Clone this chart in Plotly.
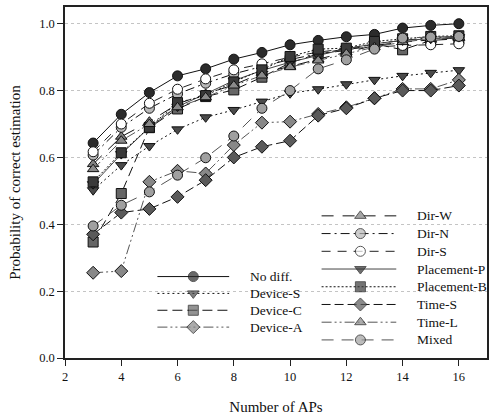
import plotly.graph_objects as go

# Number of access points on the x axis
aps = [3, 4, 5, 6, 7, 8, 9, 10, 11, 12, 13, 14, 15, 16]

# Probability of correct estimation for each scenario
no_diff     = [0.643, 0.729, 0.794, 0.844, 0.865, 0.894, 0.914, 0.937, 0.950, 0.961, 0.968, 0.987, 0.995, 1.000]
device_s    = [0.502, 0.577, 0.634, 0.684, 0.720, 0.742, 0.767, 0.792, 0.804, 0.819, 0.832, 0.844, 0.853, 0.861]
device_c    = [0.347, 0.492, 0.689, 0.745, 0.782, 0.802, 0.840, 0.883, 0.910, 0.920, 0.940, 0.922, 0.950, 0.955]
device_a    = [0.255, 0.260, 0.527, 0.560, 0.552, 0.637, 0.704, 0.707, 0.730, 0.750, 0.777, 0.805, 0.805, 0.832]
dir_w       = [0.580, 0.662, 0.707, 0.760, 0.790, 0.817, 0.853, 0.872, 0.894, 0.915, 0.935, 0.945, 0.952, 0.958]
dir_n       = [0.607, 0.690, 0.747, 0.790, 0.822, 0.850, 0.872, 0.893, 0.910, 0.925, 0.940, 0.950, 0.958, 0.962]
dir_s       = [0.617, 0.700, 0.762, 0.804, 0.835, 0.862, 0.880, 0.900, 0.915, 0.925, 0.930, 0.935, 0.937, 0.940]
placement_p = [0.520, 0.610, 0.690, 0.752, 0.790, 0.830, 0.860, 0.885, 0.905, 0.925, 0.940, 0.950, 0.955, 0.960]
placement_b = [0.527, 0.614, 0.690, 0.764, 0.785, 0.826, 0.862, 0.902, 0.924, 0.927, 0.947, 0.955, 0.962, 0.964]
time_s      = [0.370, 0.435, 0.446, 0.482, 0.532, 0.600, 0.632, 0.650, 0.725, 0.747, 0.777, 0.800, 0.800, 0.815]
time_l      = [0.565, 0.650, 0.700, 0.750, 0.780, 0.815, 0.845, 0.870, 0.890, 0.910, 0.930, 0.945, 0.955, 0.958]
mixed       = [0.395, 0.457, 0.497, 0.547, 0.599, 0.664, 0.747, 0.800, 0.865, 0.892, 0.924, 0.957, 0.960, 0.962]

x_ticks = [2, 4, 6, 8, 10, 12, 14, 16]
y_ticks = [0.0, 0.2, 0.4, 0.6, 0.8, 1.0]

FONT = "Liberation Serif"

# name, values, marker symbol, marker fill, line dash, line colour, legend block
series = [
    ("No diff.",    no_diff,     "circle",        "#2b2b2b", "solid",                    "#111111", 0),
    ("Device-S",    device_s,    "triangle-down", "#4a4a4a", "2px,3px",                  "#111111", 0),
    ("Device-C",    device_c,    "square",        "#666666", "10px,5px",                 "#111111", 0),
    ("Device-A",    device_a,    "diamond",       "#888888", "10px,3px,2px,3px,2px,3px", "#555555", 0),
    ("Dir-W",       dir_w,       "triangle-up",   "#808080", "12px,9px",                 "#111111", 1),
    ("Dir-N",       dir_n,       "circle",        "#b8b8b8", "9px,4px,2px,4px",          "#111111", 1),
    ("Dir-S",       dir_s,       "circle",        "#ffffff", "9px,7px",                  "#222222", 1),
    ("Placement-P", placement_p, "triangle-down", "#333333", "solid",                    "#444444", 1),
    ("Placement-B", placement_b, "square",        "#3a3a3a", "2px,2px",                  "#111111", 1),
    ("Time-S",      time_s,      "diamond",       "#5a5a5a", "9px,4px",                  "#111111", 1),
    ("Time-L",      time_l,      "triangle-up",   "#8a8a8a", "10px,3px,2px,3px,2px,3px", "#555555", 1),
    ("Mixed",       mixed,       "circle",        "#a0a0a0", "12px,8px",                 "#555555", 1),
]

fig = go.Figure()
for name, vals, sym, fill, dash, lc, _ in series:
    fig.add_trace(go.Scatter(
        x=aps, y=vals, name=name, mode="lines+markers", showlegend=False,
        line=dict(color=lc, width=1, dash=dash),
        marker=dict(symbol=sym, size=10, color=fill,
                    line=dict(color="#111111", width=1)),
    ))

# Legend blocks drawn on a hidden overlay axis spanning the plot area (0..1 both ways):
# key line start/end, marker position, text position, first row, row step
legend_blocks = [
    dict(x0=0.219, x1=0.389, xm=0.304, xt=0.434, y0=0.232, dy=0.048),
    dict(x0=0.608, x1=0.785, xm=0.700, xt=0.830, y0=0.405, dy=0.0505),
]
rows = [0, 0]
for name, vals, sym, fill, dash, lc, blk in series:
    b = legend_blocks[blk]
    yy = b["y0"] - rows[blk] * b["dy"]
    rows[blk] += 1
    fig.add_trace(go.Scatter(
        x=[b["x0"], b["xm"], b["x1"]], y=[yy, yy, yy], xaxis="x2", yaxis="y2",
        mode="lines+markers", showlegend=False, hoverinfo="skip",
        line=dict(color=lc, width=1, dash=dash),
        marker=dict(symbol=sym, size=[0, 10, 0], color=fill,
                    line=dict(color="#111111", width=[0, 1, 0])),
    ))
    fig.add_annotation(x=b["xt"], y=yy, xref="x2", yref="y2", text=name,
                       showarrow=False, xanchor="left", yanchor="middle",
                       font=dict(family=FONT, size=13.5, color="#111111"))

axis_common = dict(
    showline=True, linecolor="#222222", linewidth=1.5, mirror=True,
    ticks="outside", ticklen=6, tickwidth=1.2, tickcolor="#222222",
    tickfont=dict(family=FONT, size=12.5, color="#111111"),
    zeroline=False,
)

fig.update_layout(
    width=490, height=420,
    margin=dict(l=65, r=1, t=7, b=62),
    paper_bgcolor="white", plot_bgcolor="white",
    font=dict(family=FONT, size=13, color="#111111"),
    showlegend=False,
    xaxis=dict(range=[2, 17], tickvals=x_ticks, showgrid=False,
               title=dict(text="Number of APs", font=dict(family=FONT, size=15), standoff=19),
               **axis_common),
    yaxis=dict(range=[0, 1.05], tickvals=y_ticks, tickformat=".1f",
               showgrid=True, gridcolor="#c4c4c4", griddash="dot", gridwidth=1,
               title=dict(text="Probability of correct estimation", font=dict(family=FONT, size=15), standoff=15),
               **axis_common),
    xaxis2=dict(overlaying="x", range=[0, 1], visible=False, fixedrange=True),
    yaxis2=dict(overlaying="y", range=[0, 1], visible=False, fixedrange=True),
)

fig.write_html("out.html")
